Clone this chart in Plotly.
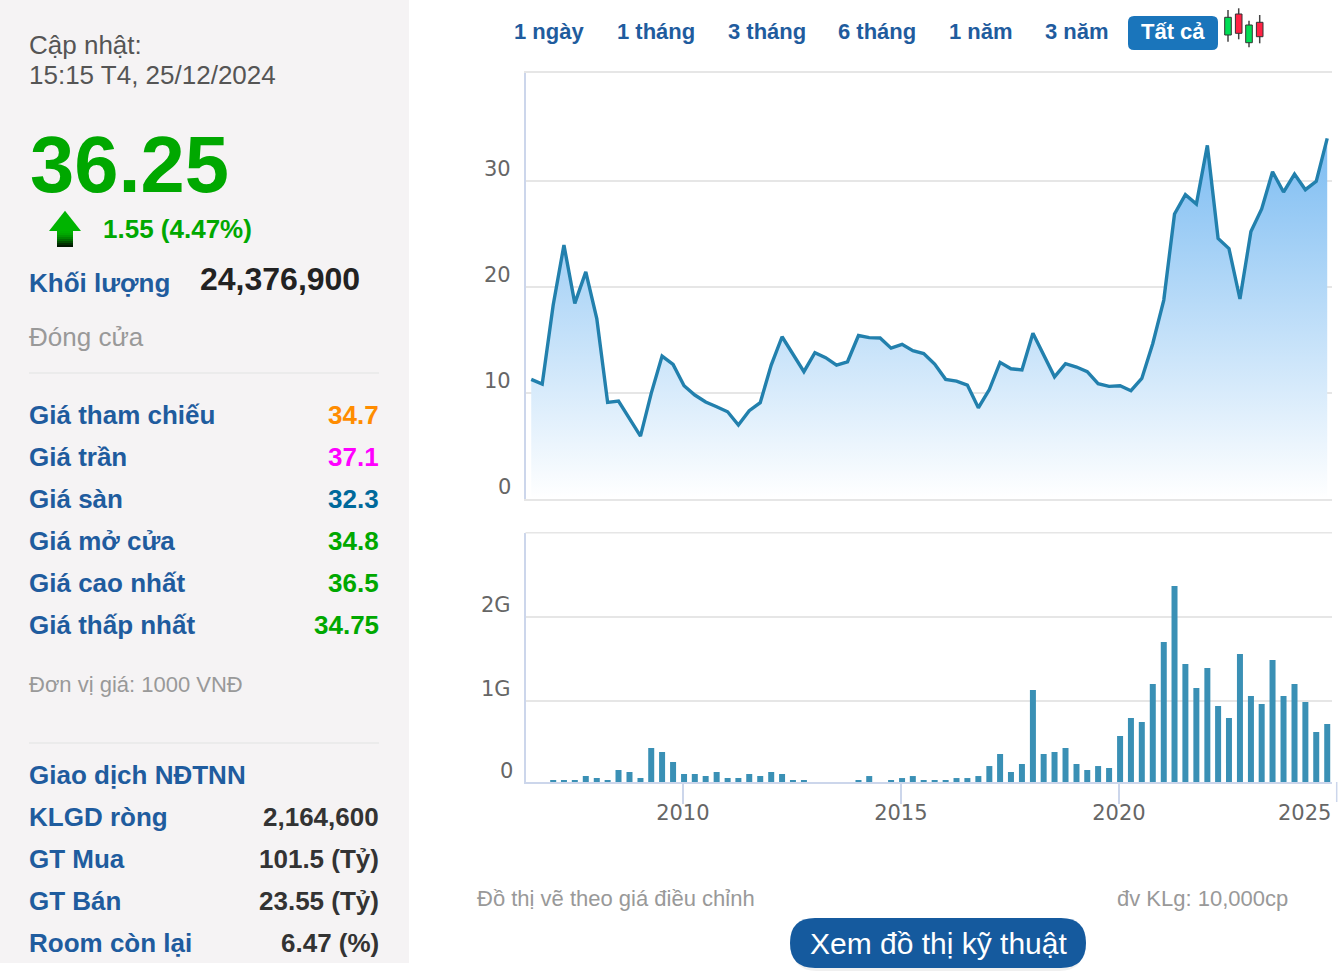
import pandas as pd
import plotly.graph_objects as go
from plotly.subplots import make_subplots

W = 1342
H = 978

# quarterly points, 2006 Q3 -> 2024 Q4, drawn about ten days into the quarter
dates = pd.date_range("2006-07-01", periods=74, freq="QS") + pd.Timedelta(days=10)

price = [
    11.26, 10.82, 18.27, 23.93, 18.43, 21.4, 17.0, 9.09, 9.21, 7.58,
    5.91, 9.94, 13.46, 12.67, 10.66, 9.78, 9.12, 8.68, 8.2, 6.95,
    8.3, 9.06, 12.6, 15.28, 13.65, 11.98, 13.77, 13.3, 12.6, 12.92,
    15.4, 15.2, 15.16, 14.2, 14.56, 13.96, 13.7, 12.7, 11.26, 11.1,
    10.72, 8.58, 10.3, 12.86, 12.26, 12.14, 15.6, 13.55, 11.5, 12.74,
    12.42, 11.98, 10.85, 10.6, 10.66, 10.19, 11.35, 14.65, 18.74, 26.86,
    28.68, 27.8, 33.33, 24.56, 23.6, 18.84, 25.2, 27.33, 30.85, 28.93,
    30.63, 29.15, 29.94, 33.99,
]

# in G, the axis starts a little above zero like the original
volume = [
    0, 0, 0.056, 0.056, 0.056, 0.103, 0.079, 0.056, 0.175, 0.151,
    0.079, 0.437, 0.389, 0.27, 0.127, 0.127, 0.103, 0.151, 0.079, 0.079,
    0.127, 0.103, 0.151, 0.127, 0.056, 0.056, 0, 0, 0, 0,
    0.056, 0.103, 0, 0.056, 0.079, 0.103, 0.056, 0.056, 0.056, 0.079,
    0.079, 0.103, 0.222, 0.365, 0.151, 0.246, 1.127, 0.365, 0.389, 0.437,
    0.246, 0.175, 0.222, 0.199, 0.579, 0.794, 0.746, 1.2, 1.698, 2.365,
    1.437, 1.151, 1.389, 0.937, 0.794, 1.556, 1.056, 0.96, 1.484, 1.056,
    1.2, 0.984, 0.627, 0.722,
]

price_ticks = [0, 10, 20, 30]
volume_ticks = [1, 2]
volume_labels = ["1G", "2G"]
year_ticks = ["2010-01-01", "2015-01-01", "2020-01-01"]
year_labels = ["2010", "2015", "2020"]

ranges = ["1 ngày", "1 tháng", "3 tháng", "6 tháng", "1 năm", "3 năm"]
range_centers = [549, 656, 767, 877, 981, 1077]

left_rows = [
    ("Giá tham chiếu", "34.7", "#ff8c00", 415),
    ("Giá trần", "37.1", "#ff00ff", 457),
    ("Giá sàn", "32.3", "#00699b", 499),
    ("Giá mở cửa", "34.8", "#00a800", 541),
    ("Giá cao nhất", "36.5", "#00a800", 583),
    ("Giá thấp nhất", "34.75", "#00a800", 625),
]
foreign_rows = [
    ("KLGD ròng", "2,164,600", 817),
    ("GT Mua", "101.5 (Tỷ)", 859),
    ("GT Bán", "23.55 (Tỷ)", 901),
    ("Room còn lại", "6.47 (%)", 943),
]

BLUE = "#1f5c9e"
SANS = "Liberation Sans"
AXIS_FONT = "DejaVu Sans"
GRID = "#e6e6e6"
AXIS = "#ccd6eb"


def px(x):
    return x / W


def py(y):
    return 1 - y / H


def label(x, y, text, size, color, anchor="left", bold=False, font=SANS):
    fig.add_annotation(
        xref="paper", yref="paper", x=px(x), y=py(y), text=f"<b>{text}</b>" if bold else text,
        showarrow=False, xanchor=anchor, yanchor="middle",
        font=dict(family=font, size=size, color=color),
        borderpad=0, borderwidth=0,
    )


def box(x0, y0, x1, y1, color, layer="below", edge=None):
    fig.add_shape(
        type="rect", xref="paper", yref="paper", layer=layer,
        x0=px(x0), x1=px(x1), y0=py(y0), y1=py(y1),
        fillcolor=color, line=dict(color=edge, width=1) if edge else dict(width=0),
    )


def rounded(x0, y0, x1, y1, r, color):
    kx = r / W
    ky = r / H
    a, b, c, d = px(x0), px(x1), py(y0), py(y1)
    path = (
        f"M {a + kx} {c} L {b - kx} {c} Q {b} {c} {b} {c - ky} "
        f"L {b} {d + ky} Q {b} {d} {b - kx} {d} L {a + kx} {d} "
        f"Q {a} {d} {a} {d + ky} L {a} {c - ky} Q {a} {c} {a + kx} {c} Z"
    )
    fig.add_shape(type="path", xref="paper", yref="paper", path=path,
                  fillcolor=color, line_width=0, layer="below")


def candle(cx, wick_top, wick_bottom, body_top, body_bottom, color):
    fig.add_shape(type="line", xref="paper", yref="paper", x0=px(cx), x1=px(cx),
                  y0=py(wick_top), y1=py(wick_bottom), line=dict(color="#444444", width=1.5))
    box(cx - 3.3, body_top, cx + 3.3, body_bottom, color, layer="above", edge="#333333")


fig = make_subplots(rows=2, cols=1, shared_xaxes=False)

fig.add_trace(go.Scatter(
    x=dates, y=price, mode="lines",
    line=dict(color="#2280ad", width=3.4),
    fill="tozeroy",
    fillgradient=dict(type="vertical", start=0, stop=34,
                      colorscale=[[0, "#ffffff"], [1, "#7cbcf2"]]),
    hoverinfo="skip",
), row=1, col=1)

fig.add_trace(go.Bar(
    x=dates, y=volume, marker=dict(color="#3a90b5", line_width=0),
    width=4.34e9, hoverinfo="skip",
), row=2, col=1)

x_range = ["2006-05-24", "2024-11-20"]

fig.update_layout(
    width=W, height=H, margin=dict(l=0, r=0, t=0, b=0),
    paper_bgcolor="white", plot_bgcolor="rgba(0,0,0,0)",
    showlegend=False,
)

fig.update_xaxes(
    range=x_range, domain=[px(525.5), px(1332)], showgrid=False, zeroline=False,
    showticklabels=False, ticks="", showline=True, mirror=True,
    linecolor=GRID, linewidth=1.5, row=1, col=1,
)
fig.update_yaxes(
    range=[0, 40.19], domain=[py(498.7), py(72.7)], tickvals=price_ticks, showticklabels=False,
    gridcolor=GRID, gridwidth=1.5, zeroline=False, showline=True,
    linecolor=AXIS, linewidth=1.5, ticks="", row=1, col=1,
)
fig.update_xaxes(
    range=x_range, domain=[px(525.5), px(1332)], showgrid=False, zeroline=False,
    tickvals=year_ticks, ticktext=year_labels, ticks="outside", ticklen=20, tickwidth=1.5,
    tickcolor=AXIS, showline=True, linecolor=AXIS, linewidth=1.5, ticklabelstandoff=-9,
    tickfont=dict(family=AXIS_FONT, size=21, color="#666666"), row=2, col=1,
)
fig.update_yaxes(
    range=[0.032, 3], domain=[py(782), py(532.7)], tickvals=volume_ticks, showticklabels=False,
    gridcolor=GRID, gridwidth=1.5, zeroline=False, showline=True,
    linecolor=AXIS, linewidth=1.5, ticks="", row=2, col=1,
)

# y labels sit just above their gridlines, so they are annotations
for v in price_ticks:
    fig.add_annotation(xref="paper", yref="y", x=px(513), y=v, yshift=11.5, text=str(v),
                       showarrow=False, xanchor="right", yanchor="middle",
                       font=dict(family=AXIS_FONT, size=21, color="#666666"))
for v, t in zip(volume_ticks, volume_labels):
    fig.add_annotation(xref="paper", yref="y2", x=px(513), y=v, yshift=11.5, text=t,
                       showarrow=False, xanchor="right", yanchor="middle",
                       font=dict(family=AXIS_FONT, size=21, color="#666666"))
label(513, 771, "0", 21, "#666666", anchor="right", font=AXIS_FONT)

# top edge of the volume panel
fig.add_shape(type="line", xref="paper", yref="paper", x0=px(525.5), x1=px(1332),
              y0=py(532.7), y1=py(532.7), line=dict(color=GRID, width=1.5))

# last year tick sits past the axis end, its label is pulled back
label(1304, 813, "2025", 21, "#666666", anchor="center", font=AXIS_FONT)
fig.add_shape(type="line", xref="paper", yref="paper", x0=px(1336.7), x1=px(1336.7),
              y0=py(782), y1=py(802), line=dict(color=AXIS, width=1.5))

# left panel
box(0, 0, 409, 963, "#f5f3f4")
label(29, 45, "Cập nhật:", 26, "#555555")
label(29, 75, "15:15 T4, 25/12/2024", 26, "#555555")
label(29.5, 164, "36.25", 79.5, "#00a800", bold=True)

# up arrow, head then a stem that fades to black
head = (f"M {px(65)} {py(210.7)} L {px(81)} {py(231)} L {px(49)} {py(231)} Z")
fig.add_shape(type="path", xref="paper", yref="paper", path=head,
              fillcolor="#00b400", line_width=0)
stem_colors = ["#00b000", "#00a800", "#009800", "#008400", "#006c00", "#004e00", "#003000", "#001800"]
for i, c in enumerate(stem_colors):
    box(57, 231 + i * 2, 73, 233 + i * 2, c, layer="above")

label(103, 229, "1.55 (4.47%)", 26, "#00a800", bold=True)
label(29, 283, "Khối lượng", 26, BLUE, bold=True)
label(200, 279, "24,376,900", 32, "#222222", bold=True)
label(29, 337, "Đóng cửa", 26, "#999999")
box(29, 372, 379, 374, "#ebebeb")
for name, val, col, y in left_rows:
    label(29, y, name, 26, BLUE, bold=True)
    label(379, y, val, 26, col, anchor="right", bold=True)
label(29, 684, "Đơn vị giá: 1000 VNĐ", 22, "#999999")
box(29, 742, 379, 744, "#ebebeb")
label(29, 775, "Giao dịch NĐTNN", 26, BLUE, bold=True)
for name, val, y in foreign_rows:
    label(29, y, name, 26, BLUE, bold=True)
    label(379, y, val, 26, "#333333", anchor="right", bold=True)

# range selector
for name, cx in zip(ranges, range_centers):
    label(cx, 32, name, 22, BLUE, anchor="center", bold=True)
rounded(1128, 16, 1218, 50, 6, "#1a75bb")
label(1173, 32, "Tất cả", 22, "white", anchor="center", bold=True)

# candlestick icon
candle(1228, 10, 41.7, 17.3, 35, "#00dd55")
candle(1238.7, 8.3, 39.3, 14, 33.3, "#ff2244")
candle(1249, 20.7, 47.3, 25, 42.7, "#00dd55")
candle(1259.7, 15, 43.3, 22.3, 36.7, "#ff2244")

# footer
label(477, 898, "Đồ thị vẽ theo giá điều chỉnh", 22, "#999999")
label(1288, 898, "đv KLg: 10,000cp", 22, "#999999", anchor="right")
rounded(792, 921, 1084, 971, 25, "#f0f0f0")
rounded(790, 918, 1086, 968, 25, "#155a9e")
label(938, 943, "Xem đồ thị kỹ thuật", 30, "white", anchor="center")

fig.write_html("out.html", config={"displayModeBar": False},
               post_script="document.body.style.margin='0';document.body.style.overflow='hidden';")
